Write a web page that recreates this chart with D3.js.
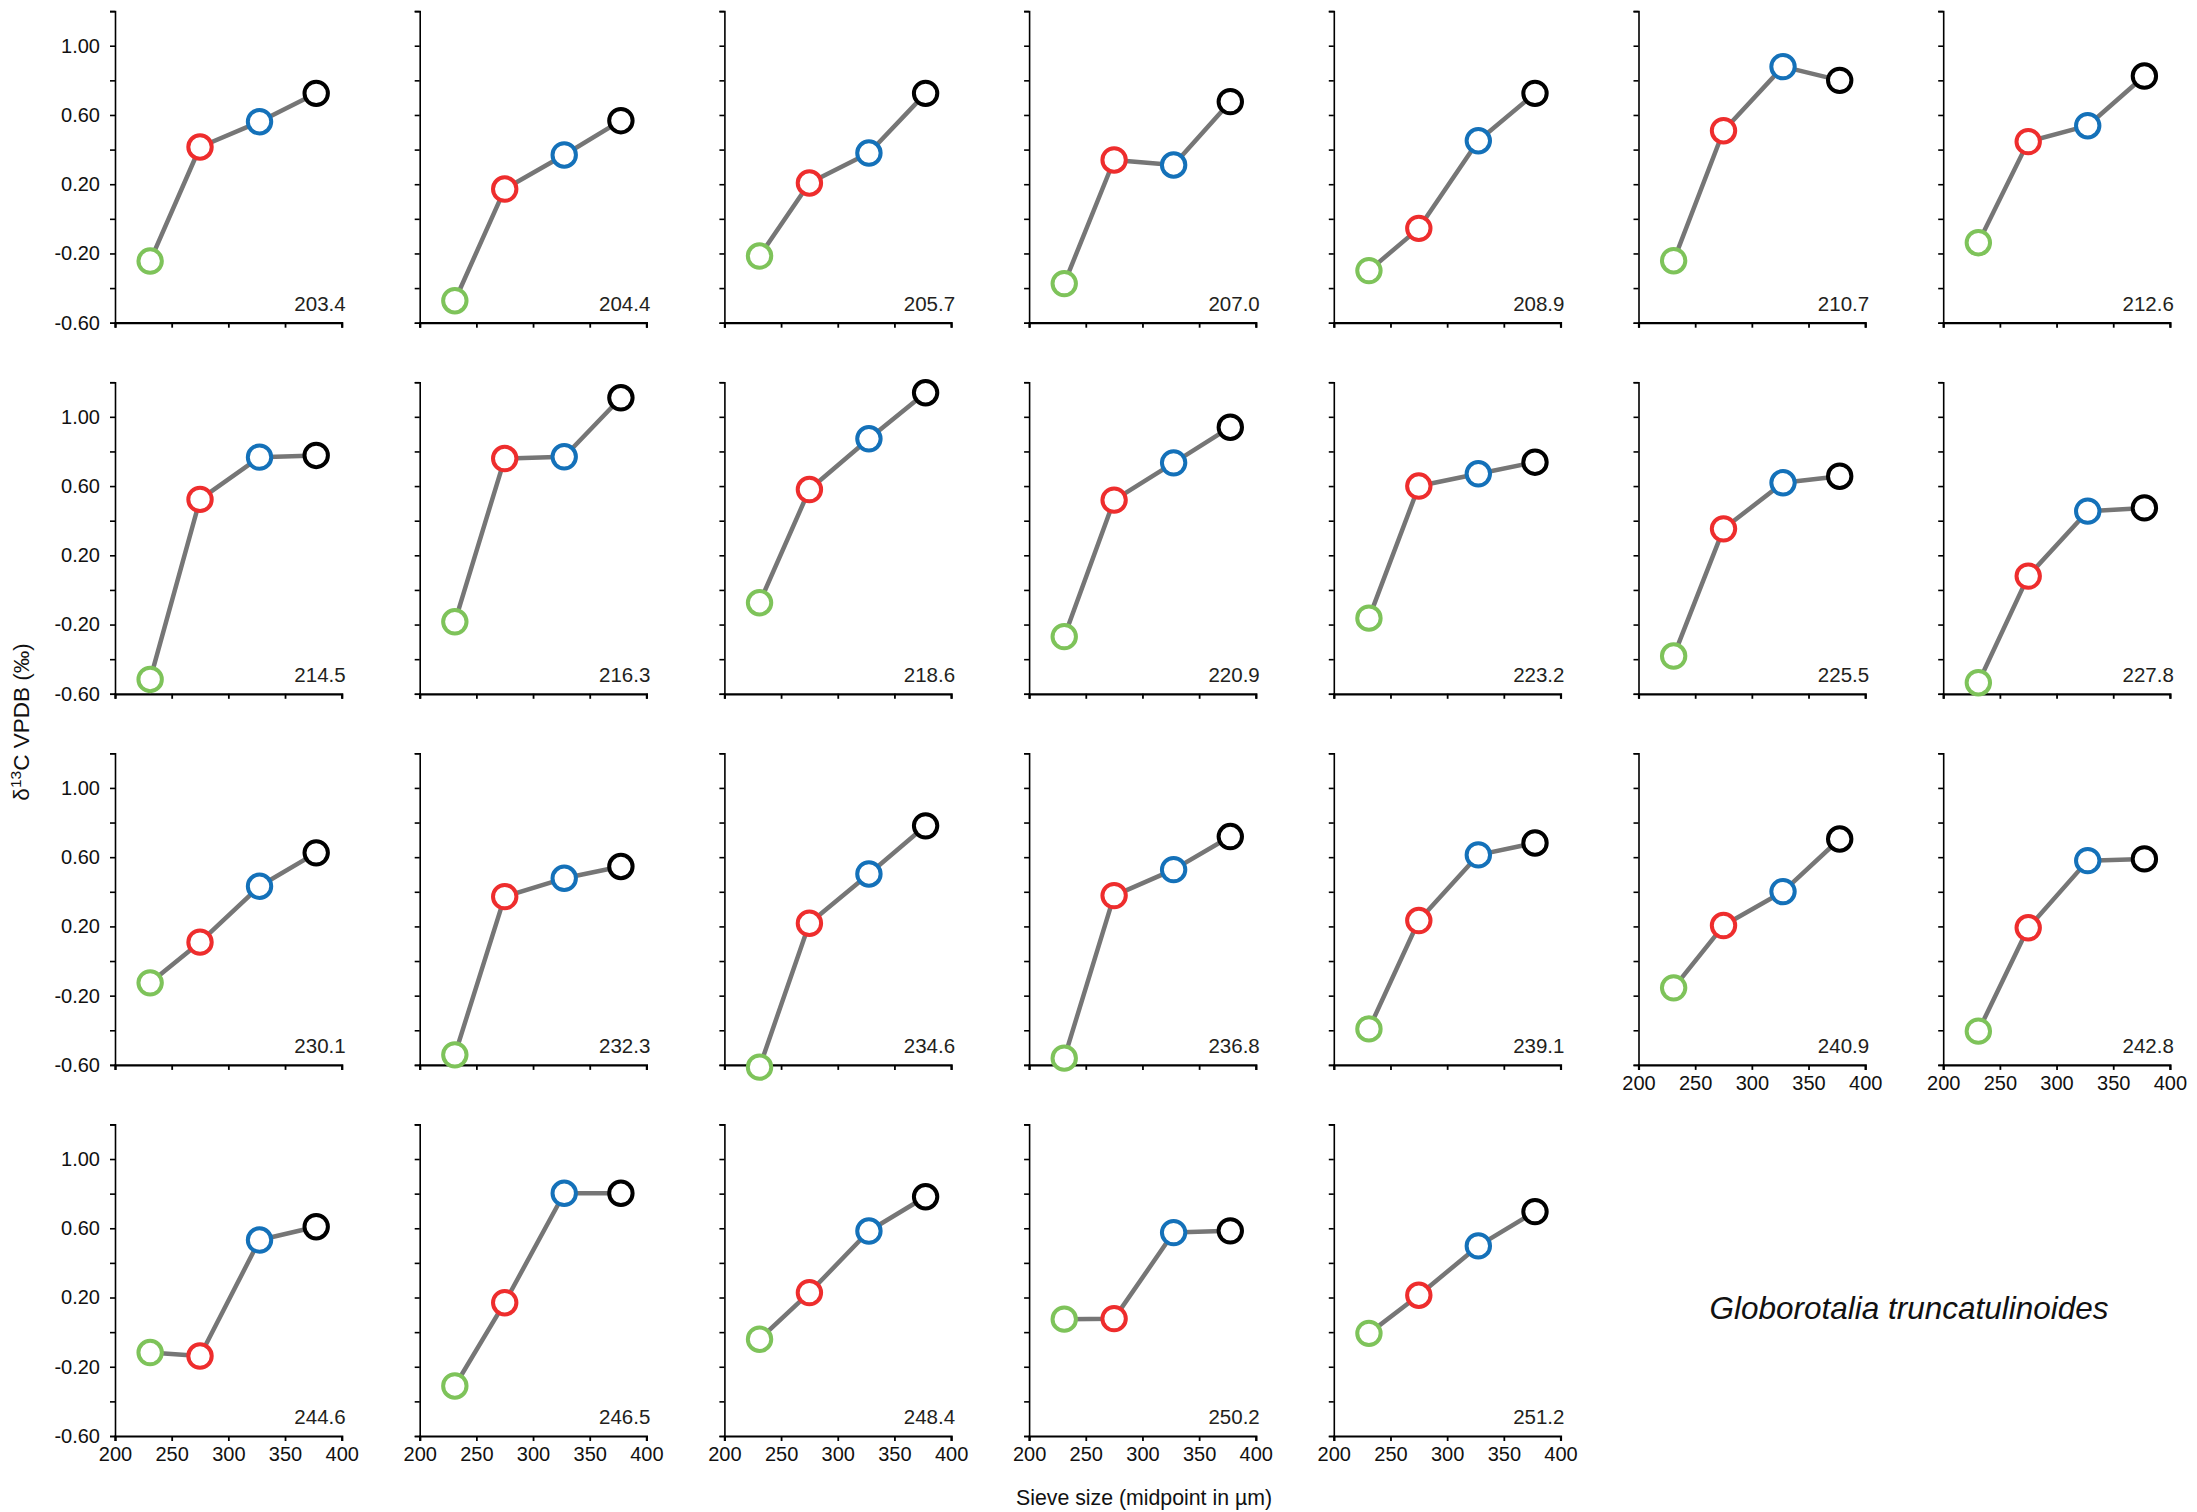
<!DOCTYPE html>
<html>
<head>
<meta charset="utf-8">
<script src="https://cdn.jsdelivr.net/npm/d3@7"></script>
<style>
  html, body { margin: 0; padding: 0; background: #fff; }
  svg { display: block; font-family: "Liberation Sans", Arial, sans-serif; }
  .axis path, .axis line { stroke: #000; }
</style>
</head>
<body>
<svg id="chart" width="2197" height="1512"></svg>
<script>
// Sample ages (ka) shown in each panel
const ages = [203.4, 204.4, 205.7, 207.0, 208.9, 210.7, 212.6,
              214.5, 216.3, 218.6, 220.9, 223.2, 225.5, 227.8,
              230.1, 232.3, 234.6, 236.8, 239.1, 240.9, 242.8,
              244.6, 246.5, 248.4, 250.2, 251.2];

// Sieve size fractions (midpoint in µm)
const sieveMidpoints = [231, 275, 327.5, 377.5];

// δ13C (‰ VPDB) for each size fraction, one value per sample age
const d13cFine = [-0.244, -0.473, -0.215, -0.374, -0.299, -0.242, -0.138,
                  -0.517, -0.184, -0.074, -0.270, -0.163, -0.382, -0.536,
                  -0.126, -0.542, -0.613, -0.561, -0.392, -0.155, -0.405,
                  -0.118, -0.311, -0.041, 0.075, -0.007];
const d13cMedium = [0.415, 0.172, 0.207, 0.340, -0.055, 0.509, 0.446,
                    0.523, 0.759, 0.580, 0.519, 0.600, 0.353, 0.080,
                    0.109, 0.372, 0.218, 0.378, 0.234, 0.205, 0.192,
                    -0.138, 0.170, 0.228, 0.078, 0.213];
const d13cLarge = [0.561, 0.369, 0.380, 0.311, 0.451, 0.879, 0.538,
                   0.767, 0.769, 0.873, 0.734, 0.671, 0.619, 0.455,
                   0.432, 0.478, 0.503, 0.528, 0.613, 0.401, 0.580,
                   0.532, 0.802, 0.584, 0.575, 0.498];
const d13cCoarse = [0.725, 0.567, 0.725, 0.677, 0.725, 0.800, 0.825,
                    0.777, 1.110, 1.139, 0.940, 0.738, 0.657, 0.474,
                    0.625, 0.546, 0.781, 0.719, 0.682, 0.705, 0.590,
                    0.609, 0.802, 0.782, 0.585, 0.696];

const fractionColors = ["#7ec35a", "#ee2d2d", "#1471b9", "#000000"];

// Axis ticks
const xTicks = [200, 250, 300, 350, 400];
const yTicks = [-0.6, -0.4, -0.2, 0.0, 0.2, 0.4, 0.6, 0.8, 1.0, 1.2];
const yLabelTicks = [-0.6, -0.2, 0.2, 0.6, 1.0];

const svg = d3.select("#chart");

// Grid of small multiples
const nCols = 7;
const colStep = 304.7, rowStep = 371.1;
const originX = 115, originY = 11.1;
const pw = 226.7, ph = 311.6;

const x = d3.scaleLinear().domain([200, 400]).range([0, pw]);
const y = d3.scaleLinear().domain([-0.6, 1.2]).range([ph, 0]);

const fmtY = v => {
  const lab = yLabelTicks.some(t => Math.abs(t - v) < 1e-6);
  return lab ? v.toFixed(2).replace("\u2212", "-") : "";
};

const line = d3.line().x(d => x(d[0])).y(d => y(d[1]));

ages.forEach((age, i) => {
  const row = Math.floor(i / nCols), col = i % nCols;
  const g = svg.append("g")
    .attr("transform", `translate(${originX + col * colStep},${originY + row * rowStep})`);

  const showY = col === 0;
  // x labels drawn on the lowest panel of each column
  const showX = (i + nCols) >= ages.length;

  const yAxis = d3.axisLeft(y).tickValues(yTicks).tickSize(5).tickPadding(10)
    .tickFormat(showY ? fmtY : () => "");
  const gy = g.append("g").attr("class", "axis").call(yAxis);
  gy.select(".domain").attr("stroke-width", 1.6);
  gy.selectAll(".tick line").attr("stroke-width", 1.6);
  gy.selectAll("text").attr("font-size", 20).attr("fill", "#111")
    .attr("font-family", "Liberation Sans, Arial, sans-serif");

  const xAxis = d3.axisBottom(x).tickValues(xTicks).tickSize(5).tickPadding(6)
    .tickFormat(showX ? d3.format("d") : () => "");
  const gx = g.append("g").attr("class", "axis")
    .attr("transform", `translate(0,${ph})`).call(xAxis);
  gx.select(".domain").attr("stroke-width", 2.2);
  gx.selectAll(".tick line").attr("stroke-width", 1.8);
  gx.selectAll("text").attr("font-size", 20).attr("fill", "#111")
    .attr("font-family", "Liberation Sans, Arial, sans-serif");

  const vals = [d13cFine[i], d13cMedium[i], d13cLarge[i], d13cCoarse[i]];
  const pts = sieveMidpoints.map((s, k) => [s, vals[k]]);

  g.append("path")
    .attr("d", line(pts))
    .attr("fill", "none")
    .attr("stroke", "#767676")
    .attr("stroke-width", 4.5)
    .attr("stroke-linejoin", "round");

  g.selectAll("circle")
    .data(pts)
    .join("circle")
    .attr("cx", d => x(d[0]))
    .attr("cy", d => y(d[1]))
    .attr("r", 11.7)
    .attr("fill", "#fff")
    .attr("stroke", (d, k) => fractionColors[k])
    .attr("stroke-width", 4);

  g.append("text")
    .attr("x", x(403.5))
    .attr("y", ph - 12)
    .attr("text-anchor", "end")
    .attr("font-size", 20.5)
    .attr("fill", "#231f20")
    .text(age.toFixed(1));
});

// Axis titles
const yTitle = svg.append("text")
  .attr("transform", "translate(29,722) rotate(-90)")
  .attr("text-anchor", "middle")
  .attr("font-size", 22.5)
  .attr("fill", "#111");
yTitle.append("tspan").text("δ");
yTitle.append("tspan").attr("baseline-shift", "super").attr("font-size", 15.5).text("13");
yTitle.append("tspan").text("C VPDB (‰)");

svg.append("text")
  .attr("x", 1144)
  .attr("y", 1505)
  .attr("text-anchor", "middle")
  .attr("font-size", 21.3)
  .attr("fill", "#111")
  .text("Sieve size (midpoint in µm)");

svg.append("text")
  .attr("x", 1909)
  .attr("y", 1319)
  .attr("text-anchor", "middle")
  .attr("font-size", 31.5)
  .attr("font-style", "italic")
  .attr("fill", "#111")
  .text("Globorotalia truncatulinoides");
</script>
</body>
</html>
